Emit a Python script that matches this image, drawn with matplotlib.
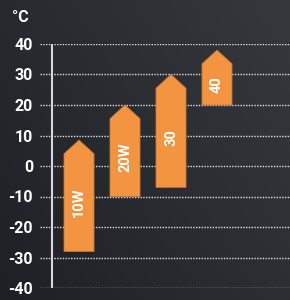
import numpy as np
import matplotlib
matplotlib.use("Agg")
import matplotlib.pyplot as plt
from matplotlib.patches import Polygon

labels = ["10W", "20W", "30", "40"]
lows = [-28, -10, -7, 20]
highs = [8.5, 20, 30, 38]
yticks = [-40, -30, -20, -10, 0, 10, 20, 30, 40]

orange = "#f39441"
plt.rcParams["font.family"] = ["Roboto", "DejaVu Sans"]
plt.rcParams["axes.unicode_minus"] = False

fig = plt.figure(figsize=(2.9, 3.0), dpi=100)

# background gradient
bg = fig.add_axes([0, 0, 1, 1])
gx, gy = np.meshgrid(np.linspace(0, 1, 200), np.linspace(0, 1, 200))
g = 0.6 * gx + 0.4 * (1 - gy)
c0 = np.array([0x1d, 0x21, 0x25]) / 255
c1 = np.array([0x35, 0x39, 0x3d]) / 255
img = c0 + (c1 - c0) * g[..., None]
bg.imshow(img, extent=[0, 1, 0, 1], aspect="auto", origin="upper")
bg.axis("off")

ax = fig.add_axes([40 / 290, 12 / 300, 250 / 290, 244 / 300])
ax.set_facecolor("none")
ax.set_xlim(-0.848, 4.587)
ax.set_ylim(-40, 40)
for s in ax.spines.values():
    s.set_visible(False)

for t in yticks:
    ax.axhline(t, color="white", alpha=0.85, lw=1, ls=(0, (1, 1)), zorder=1)
ax.axvline(-0.587, color="#d8d8d8", lw=1.5, zorder=2)

w = 0.652
head = 4.5
for i, (lo, hi, lab) in enumerate(zip(lows, highs, labels)):
    pts = [(i - w / 2, lo), (i + w / 2, lo), (i + w / 2, hi - head),
           (i, hi), (i - w / 2, hi - head)]
    ax.add_patch(Polygon(pts, closed=True, facecolor=orange,
                         edgecolor="#c97834", lw=0.6, zorder=3))
    ax.text(i, (lo + hi - head) / 2, lab, rotation=90, ha="center", va="center",
            color="white", fontsize=10.5, fontweight="bold", zorder=4)

ax.set_xticks([])
ax.set_yticks(yticks)
ax.tick_params(axis="y", length=0, pad=5, labelcolor="white", labelsize=11.5)
for lb in ax.get_yticklabels():
    lb.set_fontweight("bold")

fig.text(20 / 290, 1 - 18 / 300, "°C", color="white", fontsize=11.5,
         fontweight="bold", ha="center", va="center")

fig.savefig("out.png", dpi=100)
